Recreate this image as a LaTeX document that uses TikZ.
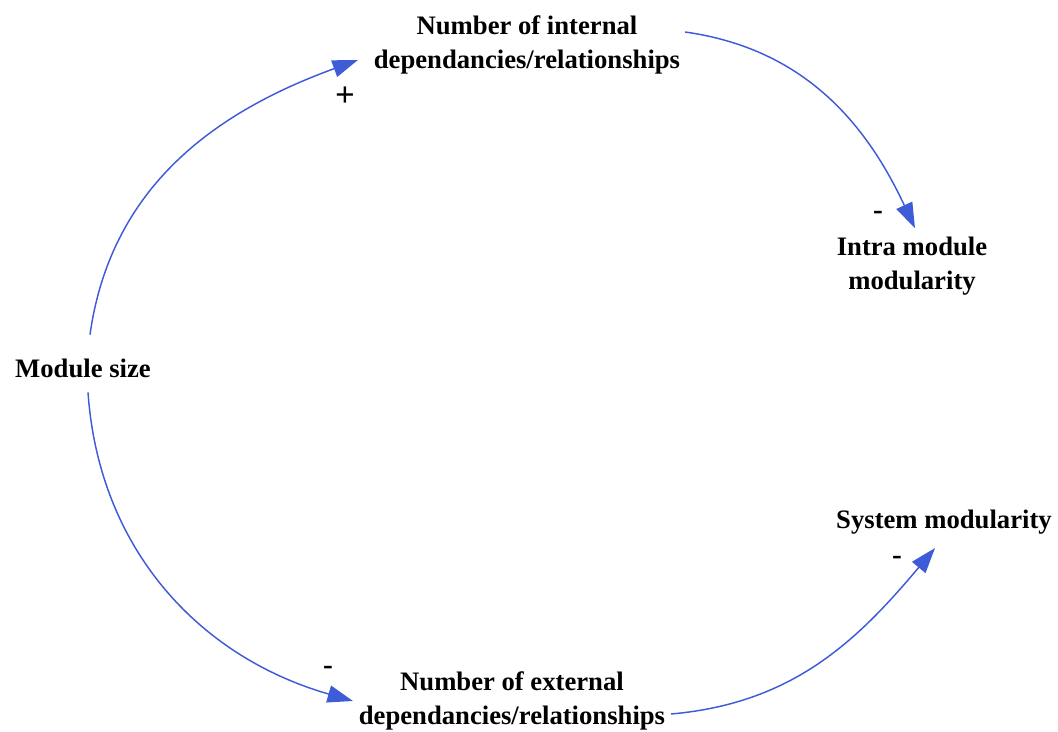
\documentclass[tikz,border=0pt]{standalone}
\usepackage{fontspec}
\setmainfont{Liberation Serif}
\usetikzlibrary{positioning,calc}
\usetikzlibrary{arrows.meta}
\definecolor{linkblue}{RGB}{62,92,215}

\begin{document}
\begin{tikzpicture}[x=0.75pt, y=0.75pt,
    factor/.style={align=center, inner sep=2pt, font=\bfseries\fontsize{20}{25}\selectfont},
    link/.style={linkblue, line width=1.1pt, -{Triangle[length=19pt, width=13pt]}},
    sign/.style={inner sep=0pt, font=\bfseries\fontsize{22}{22}\selectfont}]
    \useasboundingbox (0,0) rectangle (1058,732);

    \node[factor] (modsize)  at (83,364)  {Module size};
    \node[factor] (internal) at (527,687) {Number of internal\\dependancies/relationships};
    \node[factor] (intra)    at (912,466) {Intra module\\modularity};
    \node[factor] (external) at (512,31)  {Number of external\\dependancies/relationships};
    \node[factor] (system)   at (944,210) {System modularity};

    % polarities
    \node[sign, font=\bfseries\fontsize{26}{26}\selectfont] (s1) at (345,635) {+};
    \node[sign] (s2) at (878,517) {-};
    \node[sign] (s3) at (328,62)  {-};
    \node[sign] (s4) at (897,172) {-};

    \draw[link] ($(modsize.north)+(7,21)$) to[out=82, in=200] ($(internal.west)+(-13,-15)$);
    \draw[link] ($(internal.east)+(2,13)$) to[out=-8, in=115] ($(intra.north)+(3,6)$);
    \draw[link] ($(modsize.south)+(5,-12)$) to[out=-86, in=164] ($(external.west)+(-3,0)$);
    \draw[link] ($(external.east)+(3,-13)$) to[out=5, in=230] ($(system.south)+(-9,-11)$);
\end{tikzpicture}
\end{document}
